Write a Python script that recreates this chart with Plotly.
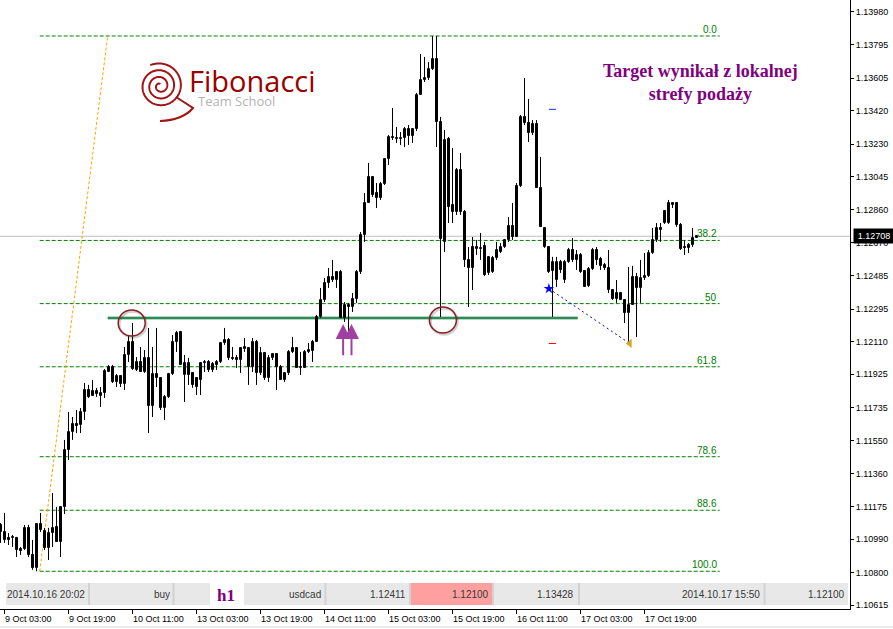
import numpy as np
import plotly.graph_objects as go

# ---------------- data (USDCAD H1) ----------------
open_ = [1.11071,1.11031,1.10997,1.10997,1.10997,1.10935,1.10935,1.11054,1.10901,1.10827,
 1.11076,1.11037,1.10940,1.11025,1.11059,1.10974,1.11173,1.11496,1.11598,1.11644,
 1.11638,1.11712,1.11836,1.11802,1.11831,1.11802,1.11819,1.11938,1.11967,1.11882,
 1.11916,1.11870,1.12035,1.12109,1.11950,1.11995,1.11938,1.12018,1.11746,1.11927,
 1.11904,1.11734,1.11797,1.11927,1.12109,1.12165,1.11921,1.11989,1.11933,1.11904,
 1.11893,1.11989,1.11995,1.11950,1.11978,1.11995,1.12103,1.12120,1.12018,1.12018,
 1.12006,1.12069,1.12075,1.11967,1.12109,1.11933,1.12046,1.11904,1.12018,1.12040,
 1.11967,1.11893,1.11933,1.12052,1.12075,1.11961,1.11961,1.12052,1.12057,1.12109,
 1.12250,1.12347,1.12443,1.12477,1.12460,1.12506,1.12245,1.12307,1.12307,1.12352,
 1.12506,1.12715,1.12897,1.13044,1.12953,1.12925,1.13005,1.13146,1.13271,1.13260,
 1.13260,1.13265,1.13316,1.13277,1.13316,1.13509,1.13594,1.13606,1.13657,1.13713,
 1.13356,1.12676,1.13260,1.12885,1.12846,1.13084,1.12846,1.12574,1.12528,1.12636,
 1.12636,1.12653,1.12500,1.12506,1.12585,1.12619,1.12647,1.12687,1.12766,1.12704,
 1.12993,1.13385,1.13350,1.13294,1.13345,1.12982,1.12755,1.12647,1.12511,1.12460,
 1.12562,1.12460,1.12562,1.12630,1.12574,1.12602,1.12511,1.12426,1.12522,1.12630,
 1.12579,1.12545,1.12528,1.12403,1.12352,1.12386,1.12347,1.12273,1.12318,1.12477,
 1.12415,1.12471,1.12483,1.12613,1.12687,1.12755,1.12851,1.12783,1.12885,1.12897,
 1.12772,1.12647,1.12642,1.12659,1.12698]
high = [1.11082,1.11139,1.11025,1.11014,1.11003,1.10946,1.11071,1.11071,1.10986,1.11076,
 1.11139,1.11054,1.11054,1.11252,1.11173,1.11173,1.11553,1.11712,1.11683,1.11723,
 1.11734,1.11876,1.11865,1.11893,1.11848,1.11853,1.11955,1.11978,1.11978,1.11927,
 1.11921,1.12080,1.12142,1.12216,1.12023,1.12080,1.12063,1.12188,1.12080,1.12188,
 1.11910,1.11808,1.11933,1.12148,1.12171,1.12171,1.12035,1.12018,1.11938,1.11910,
 1.11995,1.12006,1.12006,1.11995,1.12006,1.12109,1.12188,1.12131,1.12080,1.12035,
 1.12080,1.12131,1.12080,1.12131,1.12120,1.12080,1.12052,1.12035,1.12046,1.12046,
 1.11978,1.11938,1.12063,1.12137,1.12080,1.12052,1.12063,1.12103,1.12120,1.12262,
 1.12415,1.12471,1.12528,1.12574,1.12506,1.12517,1.12335,1.12330,1.12386,1.12517,
 1.12732,1.12953,1.13124,1.13044,1.13010,1.13016,1.13152,1.13282,1.13436,1.13328,
 1.13299,1.13328,1.13339,1.13322,1.13521,1.13742,1.13725,1.13696,1.13844,1.13844,
 1.13385,1.13311,1.13271,1.13209,1.13095,1.13180,1.12857,1.12647,1.12704,1.12687,
 1.12727,1.12676,1.12591,1.12596,1.12676,1.12670,1.12693,1.12817,1.12897,1.13010,
 1.13396,1.13606,1.13487,1.13367,1.13367,1.13158,1.12755,1.12647,1.12591,1.12591,
 1.12574,1.12574,1.12642,1.12698,1.12630,1.12613,1.12517,1.12534,1.12642,1.12647,
 1.12591,1.12557,1.12630,1.12403,1.12460,1.12392,1.12352,1.12534,1.12540,1.12500,
 1.12574,1.12613,1.12630,1.12755,1.12783,1.12783,1.12857,1.12914,1.12902,1.12897,
 1.12783,1.12687,1.12670,1.12755,1.12715]
low = [1.10969,1.10969,1.10957,1.10946,1.10889,1.10901,1.10929,1.10889,1.10816,1.10808,
 1.11031,1.10929,1.10872,1.10946,1.10974,1.10889,1.11133,1.11439,1.11553,1.11592,
 1.11592,1.11666,1.11791,1.11802,1.11797,1.11740,1.11791,1.11938,1.11876,1.11853,
 1.11853,1.11836,1.11995,1.11950,1.11944,1.11938,1.11933,1.11592,1.11683,1.11853,
 1.11723,1.11666,1.11791,1.11921,1.12052,1.11978,1.11768,1.11865,1.11848,1.11808,
 1.11808,1.11938,1.11938,1.11938,1.11950,1.11989,1.12092,1.12006,1.12006,1.11961,
 1.11933,1.12052,1.11865,1.11938,1.11865,1.11921,1.11893,1.11882,1.12006,1.11836,
 1.11893,1.11882,1.11921,1.12046,1.11961,1.11921,1.11961,1.12046,1.11995,1.12109,
 1.12245,1.12335,1.12415,1.12449,1.12415,1.12245,1.12222,1.12165,1.12279,1.12330,
 1.12494,1.12676,1.12897,1.12931,1.12868,1.12914,1.12999,1.13112,1.13254,1.13237,
 1.13226,1.13214,1.13226,1.13237,1.13305,1.13509,1.13583,1.13594,1.13651,1.13214,
 1.12250,1.12619,1.12783,1.12783,1.12829,1.12829,1.12534,1.12307,1.12403,1.12602,
 1.12574,1.12483,1.12488,1.12500,1.12574,1.12613,1.12642,1.12676,1.12687,1.12704,
 1.12987,1.13339,1.13243,1.13282,1.12982,1.12761,1.12642,1.12500,1.12250,1.12420,
 1.12500,1.12443,1.12557,1.12562,1.12517,1.12500,1.12420,1.12420,1.12517,1.12545,
 1.12517,1.12517,1.12386,1.12347,1.12330,1.12347,1.12216,1.12100,1.12318,1.12137,
 1.12330,1.12460,1.12477,1.12608,1.12676,1.12676,1.12778,1.12778,1.12868,1.12761,
 1.12630,1.12602,1.12613,1.12647,1.12698]
close = [1.11031,1.10986,1.10986,1.11003,1.10929,1.10923,1.11054,1.10901,1.10827,1.11076,
 1.11042,1.10940,1.11025,1.11054,1.10974,1.11173,1.11496,1.11598,1.11644,1.11632,
 1.11712,1.11836,1.11797,1.11831,1.11814,1.11819,1.11944,1.11967,1.11882,1.11916,
 1.11870,1.12035,1.12109,1.11955,1.11995,1.11938,1.12018,1.11746,1.11927,1.11904,
 1.11734,1.11797,1.11927,1.12109,1.12160,1.11978,1.11989,1.11921,1.11865,1.11853,
 1.11989,1.11995,1.11950,1.11984,1.11995,1.12103,1.12120,1.12018,1.12012,1.12006,
 1.12075,1.12080,1.11967,1.12109,1.11933,1.12046,1.11904,1.12018,1.12040,1.11967,
 1.11893,1.11933,1.12052,1.12075,1.11961,1.11967,1.12052,1.12063,1.12109,1.12250,
 1.12347,1.12443,1.12477,1.12460,1.12506,1.12245,1.12318,1.12318,1.12352,1.12506,
 1.12715,1.12897,1.13044,1.12942,1.12925,1.13005,1.13146,1.13271,1.13265,1.13265,
 1.13265,1.13316,1.13277,1.13316,1.13509,1.13594,1.13606,1.13657,1.13713,1.13356,
 1.12693,1.13254,1.12874,1.12846,1.13084,1.12846,1.12574,1.12528,1.12647,1.12647,
 1.12642,1.12488,1.12591,1.12585,1.12630,1.12647,1.12687,1.12766,1.12704,1.12993,
 1.13385,1.13350,1.13294,1.13345,1.12982,1.12761,1.12647,1.12506,1.12562,1.12562,
 1.12517,1.12562,1.12630,1.12574,1.12602,1.12506,1.12420,1.12522,1.12630,1.12574,
 1.12540,1.12528,1.12403,1.12352,1.12386,1.12347,1.12273,1.12318,1.12477,1.12415,
 1.12471,1.12483,1.12613,1.12687,1.12755,1.12744,1.12783,1.12897,1.12897,1.12772,
 1.12636,1.12642,1.12659,1.12698,1.12708]
bars = list(range(len(open_)))

TICK_BARS = [1, 17, 33, 49, 65, 81, 97, 113, 129, 145, 161]
TICK_LABELS = ['9 Oct 03:00', '9 Oct 19:00', '10 Oct 11:00', '13 Oct 03:00', '13 Oct 19:00',
               '14 Oct 11:00', '15 Oct 03:00', '15 Oct 19:00', '16 Oct 11:00', '17 Oct 03:00',
               '17 Oct 19:00']
PRICE_TICKS = [1.13980, 1.13795, 1.13605, 1.13420, 1.13230, 1.13045, 1.12860, 1.12670,
               1.12485, 1.12295, 1.12110, 1.11925, 1.11735, 1.11550, 1.11360, 1.11175,
               1.10990, 1.10800, 1.10615]
LAST_PRICE = 1.12708

FIB_HIGH = 1.13844
FIB_LOW = 1.10808
FIB_LOW_BAR = 9.8
FIB_HIGH_BAR = 26.8
FIB_END_BAR = 179.8
FIB_LEVELS = [0.0, 38.2, 50.0, 61.8, 78.6, 88.6, 100.0]
FIB_LABELS = ['0.0', '38.2', '50', '61.8', '78.6', '88.6', '100.0']

SUPPORT_PRICE = 1.12245
SUPPORT_BARS = [26.8, 144.3]
CIRCLE_BARS = [32.8, 110.6]
CIRCLE_PRICES = [1.12216, 1.12233]
ARROW_BARS = [85.65, 87.75]
ARROW_TIP = 1.12210
ARROW_TAIL = 1.12025

TRADE_OPEN_TIME = '2014.10.16 20:02'
TRADE_TYPE = 'buy'
TRADE_TF = 'h1'
TRADE_SYMBOL = 'usdcad'
ENTRY_PRICE = 1.12411
STOP_LOSS = 1.12100
TAKE_PROFIT = 1.13428
CLOSE_TIME = '2014.10.17 15:50'
CLOSE_PRICE = 1.12100
ENTRY_BAR = 137.1
EXIT_BAR = 157.3

TITLE_TEXT = '<b>Target wynikał z lokalnej<br>strefy podaży</b>'

# ---------------- geometry ----------------
W, H = 893, 629
PW, PH = 850, 609
X_RANGE = [-0.125, 212.375]
Y_RANGE = [1.10594, 1.14048]
DX = (X_RANGE[1] - X_RANGE[0]) / PW
DY = (Y_RANGE[1] - Y_RANGE[0]) / PH


def px(x):
    return x / PW


def py(y):
    return 1 - y / PH


fig = go.Figure()
shapes = []
annotations = []

# current price line (below candles)
shapes.append(dict(type='line', xref='paper', yref='y', x0=0, x1=1, y0=LAST_PRICE, y1=LAST_PRICE,
                   line=dict(color='#c0c0c0', width=1), layer='below'))

# fibonacci levels
for lv, lab in zip(FIB_LEVELS, FIB_LABELS):
    p = FIB_HIGH - lv / 100.0 * (FIB_HIGH - FIB_LOW)
    shapes.append(dict(type='line', xref='x', yref='y', x0=FIB_LOW_BAR, x1=FIB_END_BAR, y0=p, y1=p,
                       line=dict(color='#008000', width=1, dash='4px,2px'), layer='below'))
    annotations.append(dict(x=FIB_END_BAR, y=p, xref='x', yref='y', text=lab, showarrow=False,
                            xanchor='right', yanchor='bottom', yshift=-1, xshift=-1,
                            font=dict(family='Liberation Sans', size=10, color='#008000')))
# fib trend line
shapes.append(dict(type='line', xref='x', yref='y', x0=FIB_LOW_BAR, x1=FIB_HIGH_BAR, y0=FIB_LOW, y1=FIB_HIGH,
                   line=dict(color='#ffa500', width=1, dash='3px,2px'), layer='below'))

# support line
shapes.append(dict(type='line', xref='x', yref='y', x0=SUPPORT_BARS[0], x1=SUPPORT_BARS[1],
                   y0=SUPPORT_PRICE, y1=SUPPORT_PRICE,
                   line=dict(color='rgba(46,139,87,0.35)', width=4), layer='below'))
shapes.append(dict(type='line', xref='x', yref='y', x0=SUPPORT_BARS[0], x1=SUPPORT_BARS[1],
                   y0=SUPPORT_PRICE, y1=SUPPORT_PRICE,
                   line=dict(color='#2e8b57', width=2), layer='below'))

# candles: wicks
wx, wy = [], []
for i, h_, l_ in zip(bars, high, low):
    wx += [i, i, None]
    wy += [l_, h_, None]
fig.add_trace(go.Scatter(x=wx, y=wy, mode='lines', line=dict(color='black', width=1),
                         hoverinfo='skip', showlegend=False))
# candles: bodies
MIN_BODY = 0.9 * DY
for up in (True, False):
    xs, bs, hs = [], [], []
    for i, o, c in zip(bars, open_, close):
        if (c >= o) == up:
            xs.append(i)
            bs.append(min(o, c))
            hs.append(max(abs(c - o), MIN_BODY))
    fig.add_trace(go.Bar(x=xs, y=hs, base=bs, width=0.5,
                         marker=dict(color='white' if up else 'black',
                                     line=dict(color='black', width=1)),
                         hoverinfo='skip', showlegend=False))

# circles
for cb, cp in zip(CIRCLE_BARS, CIRCLE_PRICES):
    rx, ry = 13.5 * DX, 13 * DY
    shapes.append(dict(type='circle', xref='x', yref='y', x0=cb - rx + 0.3, x1=cb + rx + 0.3,
                       y0=cp - ry - 1.5 * DY, y1=cp + ry - 1.5 * DY,
                       line=dict(color='rgba(0,0,0,0.18)', width=2.5)))
    shapes.append(dict(type='circle', xref='x', yref='y', x0=cb - rx, x1=cb + rx, y0=cp - ry, y1=cp + ry,
                       line=dict(color='#8b1f1f', width=1.5)))

# purple arrows
for ab in ARROW_BARS:
    annotations.append(dict(x=ab, y=ARROW_TIP, ax=ab, ay=ARROW_TAIL, xref='x', yref='y',
                            axref='x', ayref='y', text='', showarrow=True, arrowhead=2,
                            arrowsize=1.5, arrowwidth=2, arrowcolor='#a040a0'))

# trade: TP / SL dashes
for lvl, col in ((TAKE_PROFIT, '#1030e0'), (STOP_LOSS, '#ff0000')):
    shapes.append(dict(type='line', xref='x', yref='y', x0=ENTRY_BAR, x1=ENTRY_BAR + 7 * DX,
                       y0=lvl, y1=lvl, line=dict(color=col, width=1)))
fig.add_trace(go.Scatter(x=[ENTRY_BAR, EXIT_BAR], y=[ENTRY_PRICE, CLOSE_PRICE], mode='lines',
                         line=dict(color='#0000ff', width=1, dash='2px,3px'),
                         hoverinfo='skip', showlegend=False))
fig.add_trace(go.Scatter(x=[ENTRY_BAR], y=[ENTRY_PRICE], mode='markers',
                         marker=dict(symbol='star', size=8, color='#0000ff'),
                         hoverinfo='skip', showlegend=False))
fig.add_trace(go.Scatter(x=[EXIT_BAR], y=[CLOSE_PRICE], mode='markers',
                         marker=dict(symbol='triangle-left', size=8, color='#daa520'),
                         hoverinfo='skip', showlegend=False))

# x tick labels (left aligned at ticks, MT4 style)
for tb, tl in zip(TICK_BARS, TICK_LABELS):
    annotations.append(dict(x=tb, y=0, xref='x', yref='paper', text=tl, showarrow=False,
                            xanchor='left', yanchor='top', xshift=-2, yshift=-3,
                            font=dict(family='Liberation Sans', size=9, color='black')))

# last price tag
annotations.append(dict(x=1, y=LAST_PRICE, xref='paper', yref='y', text=f'{LAST_PRICE:.5f}',
                        showarrow=False, xanchor='left', yanchor='middle', xshift=3,
                        bgcolor='black', width=38, height=12, borderpad=1,
                        font=dict(family='Liberation Sans', size=9, color='white')))

# logo
th = np.linspace(np.radians(-115), np.radians(-115) + 3.1 * 2 * np.pi, 320)
r = 23 - 21 * (th - th[0]) / (th[-1] - th[0])
sx, sy = 160 + r * np.cos(th), 86 + r * np.sin(th)
path = 'M ' + ' L '.join(f'{px(a):.5f},{py(b):.5f}' for a, b in zip(sx, sy))
shapes.append(dict(type='path', xref='paper', yref='paper', path=path,
                   line=dict(color='#a01515', width=2)))
tail = (f'M {px(176):.5f},{py(97):.5f} L {px(193):.5f},{py(108):.5f} '
        f'Q {px(183):.5f},{py(120):.5f} {px(160):.5f},{py(121):.5f}')
shapes.append(dict(type='path', xref='paper', yref='paper', path=tail,
                   line=dict(color='#a01515', width=2)))
annotations.append(dict(x=px(187), y=py(81), xref='paper', yref='paper', text='Fibonacci',
                        showarrow=False, xanchor='left', yanchor='middle',
                        font=dict(family='Open Sans', size=29, color='#9b0000')))
annotations.append(dict(x=px(196), y=py(101), xref='paper', yref='paper', text='Team School',
                        showarrow=False, xanchor='left', yanchor='middle',
                        font=dict(family='Open Sans', size=13, color='#b4b4b4')))

# purple comment
annotations.append(dict(x=px(700), y=py(82), xref='paper', yref='paper', text=TITLE_TEXT,
                        showarrow=False, xanchor='center', yanchor='middle', align='center',
                        font=dict(family='Liberation Serif', size=18, color='#800080')))

# trade row
ROW_TOP, ROW_BOT = 583, 605
shapes.append(dict(type='rect', xref='paper', yref='paper', x0=px(6), x1=px(848),
                   y0=py(ROW_BOT), y1=py(ROW_TOP), fillcolor='#e8e8e8', line=dict(width=0)))
shapes.append(dict(type='rect', xref='paper', yref='paper', x0=px(210), x1=px(244),
                   y0=py(ROW_BOT), y1=py(ROW_TOP), fillcolor='white', line=dict(width=0)))
shapes.append(dict(type='rect', xref='paper', yref='paper', x0=px(411), x1=px(492),
                   y0=py(ROW_BOT), y1=py(ROW_TOP), fillcolor='#ffa0a0', line=dict(width=0)))
for sxp in [89, 173.5, 325.5, 410, 493, 579, 764.5]:
    shapes.append(dict(type='line', xref='paper', yref='paper', x0=px(sxp), x1=px(sxp),
                       y0=py(ROW_BOT), y1=py(ROW_TOP), line=dict(color='#d2d2d2', width=2)))
row_texts = [TRADE_OPEN_TIME, TRADE_TYPE, TRADE_SYMBOL, f'{ENTRY_PRICE:.5f}', f'{STOP_LOSS:.5f}',
             f'{TAKE_PROFIT:.5f}', CLOSE_TIME, f'{CLOSE_PRICE:.5f}']
row_right = [87, 172, 323, 408, 491, 576, 762, 847]
for t, xr in zip(row_texts, row_right):
    annotations.append(dict(x=px(xr), y=py(594), xref='paper', yref='paper', text=t,
                            showarrow=False, xanchor='right', yanchor='middle',
                            font=dict(family='Liberation Sans', size=10, color='#383838')))
annotations.append(dict(x=px(226), y=py(595), xref='paper', yref='paper', text=f'<b>{TRADE_TF}</b>',
                        showarrow=False, xanchor='center', yanchor='middle',
                        font=dict(family='Liberation Serif', size=17, color='#800080')))

# bottom window edge line
shapes.append(dict(type='line', xref='paper', yref='paper', x0=0, x1=W / PW, y0=py(627), y1=py(627),
                   line=dict(color='#d8d8d8', width=1)))

fig.update_layout(
    width=W, height=H,
    margin=dict(l=0, r=W - PW, t=0, b=H - PH, autoexpand=False),
    paper_bgcolor='white', plot_bgcolor='white',
    showlegend=False, barmode='overlay', bargap=0,
    shapes=shapes, annotations=annotations,
    xaxis=dict(range=X_RANGE, showgrid=False, zeroline=False, showline=True, linecolor='black',
               linewidth=1, ticks='outside', ticklen=4, tickcolor='black', tickvals=TICK_BARS,
               showticklabels=False, fixedrange=True),
    yaxis=dict(range=Y_RANGE, side='right', showgrid=False, zeroline=False, showline=True,
               linecolor='black', linewidth=1, ticks='outside', ticklen=3, tickcolor='black',
               tickvals=PRICE_TICKS, ticktext=[f'{v:.5f}' for v in PRICE_TICKS],
               tickfont=dict(family='Liberation Sans', size=9, color='black'), fixedrange=True),
)

fig.write_html('out.html', config={'displayModeBar': False},
               post_script="document.body.style.margin='0';document.body.style.overflow='hidden';")
